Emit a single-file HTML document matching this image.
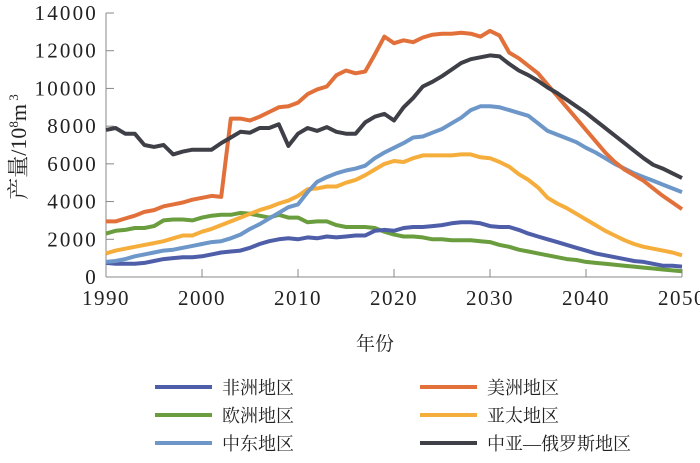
<!DOCTYPE html>
<html><head><meta charset="utf-8"><style>
body{margin:0;background:#fff;}
svg text{font-family:"Liberation Serif","Noto Serif CJK SC",serif;fill:#222;}
</style></head><body>
<svg id="chart" width="700" height="458" viewBox="0 0 700 458" xmlns="http://www.w3.org/2000/svg">
<g id="axes"></g>
<g id="series"></g>
<g id="legend"></g>
</svg>
<script>
const years = Array.from({length:61},(_,i)=>1990+i);
const xTicks = [1990,2000,2010,2020,2030,2040,2050];
const yTicks = [0,2000,4000,6000,8000,10000,12000,14000];
const seriesNames = ["非洲地区","美洲地区","欧洲地区","亚太地区","中东地区","中亚—俄罗斯地区"];
const seriesColors = ["#4f5ea8","#e2703a","#6a9d3e","#f5ad3b","#6d97c8","#3f3f48"];
const africa = [750,700,700,700,750,850,950,1000,1050,1050,1100,1200,1300,1350,1400,1550,1750,1900,2000,2050,2000,2100,2050,2150,2100,2150,2200,2200,2450,2500,2450,2600,2650,2650,2700,2750,2850,2900,2900,2850,2700,2650,2650,2500,2300,2150,2000,1850,1700,1550,1400,1250,1150,1050,950,850,800,700,600,600,550];
const americas = [2950,2950,3100,3250,3450,3550,3750,3850,3950,4100,4200,4300,4250,8400,8400,8300,8500,8750,9000,9050,9250,9700,9950,10100,10700,10950,10800,10900,11800,12750,12400,12550,12450,12700,12850,12900,12900,12950,12900,12750,13050,12800,11900,11600,11200,10800,10200,9600,9000,8400,7800,7200,6600,6100,5700,5400,5100,4700,4300,3950,3600];
const europe = [2300,2450,2500,2600,2600,2700,3000,3050,3050,3000,3150,3250,3300,3300,3400,3350,3250,3150,3300,3150,3150,2900,2950,2950,2750,2650,2650,2650,2600,2400,2250,2150,2150,2100,2000,2000,1950,1950,1950,1900,1850,1700,1600,1450,1350,1250,1150,1050,950,900,800,750,700,650,600,550,500,450,400,350,300];
const asiaPacific = [1250,1400,1500,1600,1700,1800,1900,2050,2200,2200,2400,2550,2750,2950,3150,3350,3550,3700,3900,4050,4300,4650,4700,4800,4800,5000,5150,5400,5700,6000,6150,6100,6300,6450,6450,6450,6450,6500,6500,6350,6300,6100,5850,5450,5150,4750,4200,3900,3650,3350,3050,2750,2450,2200,1950,1750,1600,1500,1400,1300,1150];
const middleEast = [800,850,950,1100,1200,1300,1400,1450,1550,1650,1750,1850,1900,2050,2250,2550,2800,3100,3400,3700,3850,4500,5050,5300,5500,5650,5750,5900,6300,6600,6850,7100,7400,7450,7650,7850,8150,8450,8850,9050,9050,9000,8850,8700,8550,8150,7750,7550,7350,7150,6850,6600,6300,6000,5750,5500,5300,5100,4900,4700,4500];
const centralAsiaRussia = [7800,7900,7600,7600,7000,6900,7000,6500,6650,6750,6750,6750,7100,7400,7700,7650,7900,7900,8100,6950,7600,7900,7750,7950,7700,7600,7600,8200,8500,8650,8300,9000,9500,10100,10350,10650,11000,11350,11550,11650,11750,11700,11300,10950,10700,10400,10050,9750,9400,9050,8700,8300,7900,7500,7100,6700,6300,5950,5750,5500,5250];
const allSeries = [africa,americas,europe,asiaPacific,middleEast,centralAsiaRussia];
const seriesKeys = ["africa","americas","europe","asia-pacific","middle-east","central-asia-russia"];

const X0=106,X1=682,Y0=277,Y1=13;
const xs=v=>X0+(v-1990)/(2050-1990)*(X1-X0);
const ys=v=>Y0-(v/14000)*(Y0-Y1);
const NS="http://www.w3.org/2000/svg";
function mk(tag,attrs,parent){const e=document.createElementNS(NS,tag);for(const k in attrs)e.setAttribute(k,attrs[k]);parent.appendChild(e);return e;}
const axes=document.getElementById('axes');
let e=mk('line',{x1:X0,y1:Y1,x2:X0,y2:Y0,stroke:'#888','stroke-width':1},axes);


e=mk('line',{x1:X0,y1:Y0,x2:X1,y2:Y0,stroke:'#888','stroke-width':1},axes);


yTicks.forEach(t=>{
  const y=ys(t);
  const l=mk('line',{x1:X0,y1:y,x2:X0+8,y2:y,stroke:'#888'},axes);
  
  
  const tx=mk('text',{x:X0-8,y:y+7,'text-anchor':'end','font-size':21,'letter-spacing':2.2},axes);
  tx.textContent=t;
  
  
});
xTicks.forEach(t=>{
  const x=xs(t);
  const l=mk('line',{x1:x,y1:Y0,x2:x,y2:Y0-8,stroke:'#888'},axes);
  
  
  const tx=mk('text',{x:x,y:Y0+28,'text-anchor':'middle','font-size':21,'letter-spacing':1.5},axes);
  tx.textContent=t;
  
  
});
let xt=mk('text',{x:375,y:350,'text-anchor':'middle','font-size':19},axes);
xt.textContent='年份';


let yt=mk('text',{x:0,y:0,'text-anchor':'middle','font-size':22,transform:'translate(26,147) rotate(-90)'},axes);
yt.innerHTML='产量/10<tspan font-size="13" dy="-8">8</tspan><tspan dy="8">m</tspan><tspan font-size="13" dy="-8"> 3</tspan>';



const sg=document.getElementById('series');
const order=[2,0,3,4,1,5];
order.forEach(i=>{
  const d=allSeries[i].map((v,j)=>(j?'L':'M')+xs(years[j]).toFixed(1)+','+ys(v).toFixed(1)).join('');
  const p=mk('path',{d:d,fill:'none',stroke:seriesColors[i],'stroke-width':4,'stroke-linejoin':'round'},sg);
  
  
});

const lg=document.getElementById('legend');
seriesNames.forEach((n,i)=>{
  const col=i%2, row=Math.floor(i/2);
  const lx=col?420:155, ly=387+row*28;
  const g=mk('g',{},lg);
  
  
  mk('line',{x1:lx,y1:ly,x2:lx+57,y2:ly,stroke:seriesColors[i],'stroke-width':4},g);
  const t=mk('text',{x:lx+67,y:ly+7,'font-size':18},g);
  t.textContent=n;
});
</script>
</body></html>
